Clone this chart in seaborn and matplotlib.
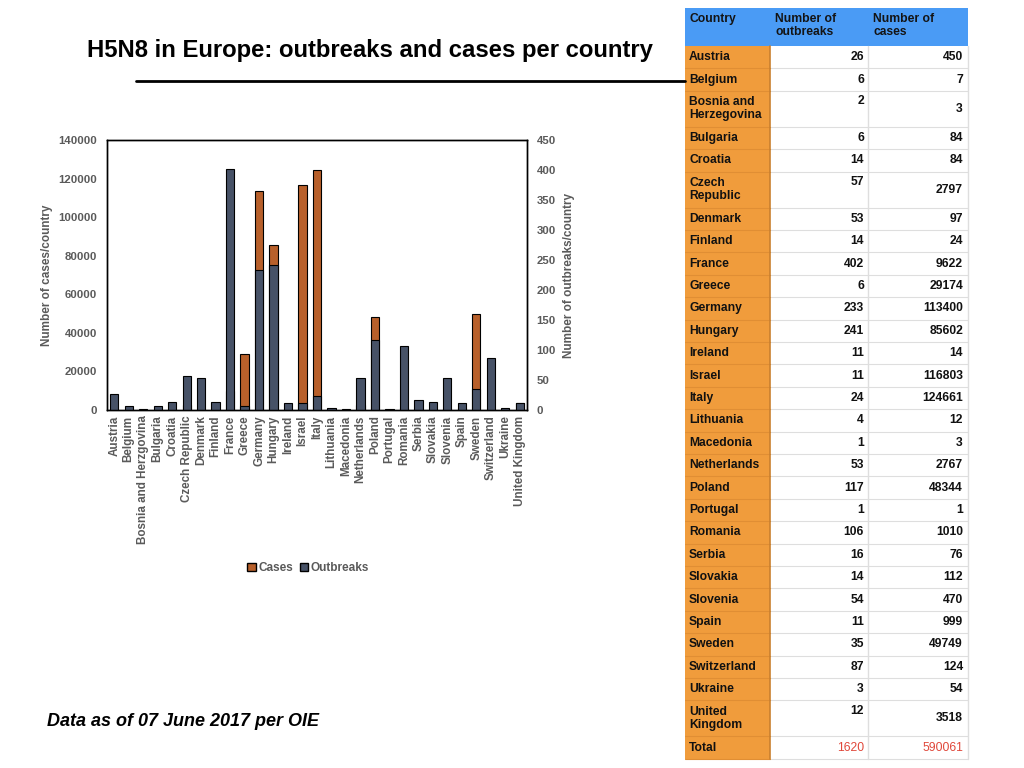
import matplotlib
matplotlib.use("Agg")
import matplotlib.pyplot as plt
from matplotlib.patches import Patch, Rectangle
import seaborn as sns
import pandas as pd

# chart data (values as in the OIE table)
countries = ["Austria", "Belgium", "Bosnia and Herzgovina", "Bulgaria", "Croatia",
             "Czech Republic", "Denmark", "Finland", "France", "Greece", "Germany",
             "Hungary", "Ireland", "Israel", "Italy", "Lithuania", "Macedonia",
             "Netherlands", "Poland", "Portugal", "Romania", "Serbia", "Slovakia",
             "Slovenia", "Spain", "Sweden", "Switzerland", "Ukraine", "United Kingdom"]
table_countries = ["Austria", "Belgium", "Bosnia and\nHerzegovina", "Bulgaria", "Croatia",
                   "Czech\nRepublic", "Denmark", "Finland", "France", "Greece", "Germany",
                   "Hungary", "Ireland", "Israel", "Italy", "Lithuania", "Macedonia",
                   "Netherlands", "Poland", "Portugal", "Romania", "Serbia", "Slovakia",
                   "Slovenia", "Spain", "Sweden", "Switzerland", "Ukraine", "United\nKingdom"]
outbreaks = [26, 6, 2, 6, 14, 57, 53, 14, 402, 6, 233, 241, 11, 11, 24, 4, 1,
             53, 117, 1, 106, 16, 14, 54, 11, 35, 87, 3, 12]
cases = [450, 7, 3, 84, 84, 2797, 97, 24, 9622, 29174, 113400, 85602, 14, 116803,
         124661, 12, 3, 2767, 48344, 1, 1010, 76, 112, 470, 999, 49749, 124, 54, 3518]
total_outbreaks = 1620
total_cases = 590061

orange = "#B8602B"
dark = "#475267"
gray = "#5a5a5a"

sns.set_theme(style="white")
plt.rcParams["font.family"] = ["Liberation Sans", "DejaVu Sans"]
plt.rcParams["font.weight"] = "bold"
plt.rcParams["axes.labelweight"] = "bold"

df = pd.DataFrame({"Country": countries, "Cases": cases, "Outbreaks": outbreaks})

fig = plt.figure(figsize=(10.24, 7.68), dpi=100)

# bar chart, cases on the left axis, outbreaks on the right
ax1 = fig.add_axes([107 / 1024, 1 - 410 / 768, 420 / 1024, 270 / 768])
sns.barplot(data=df, x="Country", y="Cases", ax=ax1, color=orange, width=0.57,
            edgecolor="black", linewidth=0.8, saturation=1)
ax2 = ax1.twinx()
sns.barplot(data=df, x="Country", y="Outbreaks", ax=ax2, color=dark, width=0.57,
            edgecolor="black", linewidth=0.8, saturation=1)

ax1.set_ylim(0, 140000)
ax1.set_yticks(range(0, 140001, 20000))
ax2.set_ylim(0, 450)
ax2.set_yticks(range(0, 451, 50))
ax1.set_xlabel("")
ax2.set_xlabel("")
ax1.set_ylabel("Number of cases/country", fontsize=8.5, color=gray, labelpad=4)
ax2.set_ylabel("Number of outbreaks/country", fontsize=8.5, color=gray, labelpad=5)
ax1.tick_params(axis="x", rotation=90, length=0, labelsize=8.4, labelcolor=gray, pad=4)
ax1.tick_params(axis="y", length=0, labelsize=8.2, labelcolor=gray, pad=7)
ax2.tick_params(axis="y", length=0, labelsize=8.2, labelcolor=gray, pad=7)
for ax in (ax1, ax2):
    for sp in ax.spines.values():
        sp.set_color("black")
        sp.set_linewidth(1)

fig.legend(handles=[Patch(facecolor=orange, edgecolor="black", label="Cases"),
                    Patch(facecolor=dark, edgecolor="black", label="Outbreaks")],
           loc="center", bbox_to_anchor=(0.301, 0.26), ncol=2, frameon=False,
           fontsize=8.5, handlelength=0.7, handleheight=0.7, handletextpad=0.2,
           columnspacing=0.6, labelcolor=gray)

# overlay in pixel coordinates for title, rule, note and table
ov = fig.add_axes([0, 0, 1, 1])
ov.set_xlim(0, 1024)
ov.set_ylim(768, 0)
ov.axis("off")

ov.text(87, 50, "H5N8 in Europe: outbreaks and cases per country", fontsize=17.2,
        fontweight="bold", va="center", ha="left", color="black")
ov.plot([136, 685], [81, 81], color="black", lw=2)
ov.text(47, 722, "Data as of 07 June 2017 per OIE", fontsize=13, fontweight="bold",
        style="italic", va="center", ha="left", color="black")

x0, x1, x2, x3 = 685, 770, 868, 968
blue = "#4A9BF5"
tab_orange = "#F09C3C"
line_gray = "#DEDEDE"

ov.add_patch(Rectangle((x0, 8), x3 - x0, 38, facecolor=blue, edgecolor="none"))
for xx, txt in [(x0 + 4, "Country"), (x1 + 5, "Number of\noutbreaks"), (x2 + 5, "Number of\ncases")]:
    ov.text(xx, 13, txt, fontsize=8.7, va="top", ha="left", color="#141414", linespacing=1.1)

rows = [(n, o, c) for n, o, c in zip(table_countries, outbreaks, cases)]
rows.append(("Total", total_outbreaks, total_cases))
y = 46
for name, o, c in rows:
    h = 36 if "\n" in name else 22.4
    ov.add_patch(Rectangle((x0, y), x1 - x0, h, facecolor=tab_orange, edgecolor="none"))
    ov.add_patch(Rectangle((x1, y), x3 - x1, h, facecolor="white", edgecolor="none"))
    ov.plot([x1, x3], [y + h, y + h], color=line_gray, lw=0.8)
    ov.plot([x0, x1], [y + h, y + h], color="#E08E34", lw=0.8)
    ov.text(x0 + 4, y + h / 2, name, fontsize=8.7, va="center", ha="left",
            color="#111111", linespacing=1.15)
    is_total = name == "Total"
    col = "#E0473A" if is_total else "#111111"
    wt = "normal" if is_total else "bold"
    oy = y + 10.5 if "\n" in name else y + h / 2
    ov.text(x2 - 4, oy, str(o), fontsize=8.7, va="center", ha="right", color=col, fontweight=wt)
    ov.text(x3 - 5, y + h / 2, str(c), fontsize=8.7, va="center", ha="right", color=col, fontweight=wt)
    y += h

ov.plot([x1, x1], [46, y], color="#C9802F", lw=1.2)
ov.plot([x2, x2], [46, y], color=line_gray, lw=1)
ov.plot([x3, x3], [46, y], color=line_gray, lw=1)

fig.savefig("out.png", dpi=100)
